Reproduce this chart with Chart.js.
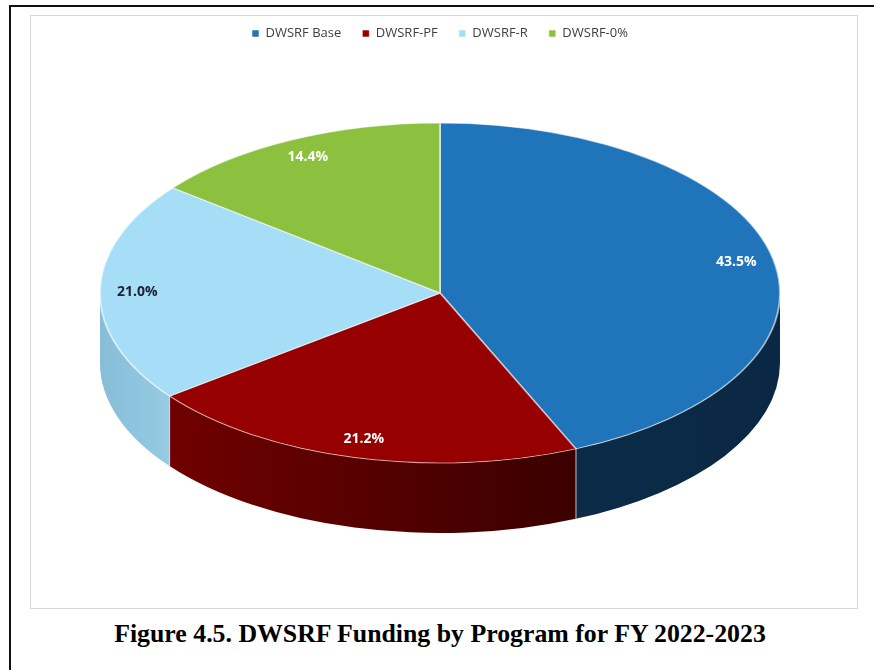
<!DOCTYPE html>
<html>
<head>
<meta charset="utf-8">
<script src="https://cdn.jsdelivr.net/npm/chart.js@4.4.0/dist/chart.umd.min.js"></script>
<style>
  html, body { margin: 0; padding: 0; background: #fff; }
  body { width: 874px; height: 670px; position: relative; overflow: hidden; }
  #frame { position: absolute; left: 9px; top: 5px; width: 900px; height: 700px;
           border-left: 2px solid #111; border-top: 2px solid #111; }
  #box { position: absolute; left: 30px; top: 15px; width: 826px; height: 592px;
         border: 1px solid #d9d9d9; overflow: hidden; background: #fff; }
  #box canvas { position: absolute; left: 0; top: -10px; }
  #title { position: absolute; left: 0; width: 880px; top: 619px; line-height: 30px;
           text-align: center; font: bold 25.8px "Liberation Serif", serif; color: #000; }
</style>
</head>
<body>
<div id="frame"></div>
<div id="box"><canvas id="pie" width="826" height="602"></canvas></div>
<div id="title">Figure 4.5. DWSRF Funding by Program for FY 2022-2023</div>
<script>
// values (percent of FY 2022-2023 DWSRF funding)
const programs = ['DWSRF Base', 'DWSRF-PF', 'DWSRF-R', 'DWSRF-0%'];
const shares = [43.5, 21.2, 21.0, 14.4];

// colours: top face, side wall (left -> right) and label text
const topColors = ['#2074B9', '#960000', '#A6DDF7', '#8CC13F'];
const sideColors = [['#0B2B48', '#0A2843'], ['#700000', '#3A0000'], ['#88BDD8', '#96CBE3'], ['#6E9A30', '#5C8427']];
const labelColors = ['#ffffff', '#ffffff', '#1B2233', '#ffffff'];

const DEPTH = 70;      // wall height in px
const SQUASH = 2;      // horizontal stretch of the circle -> ellipse
const LABEL_POS = 0.89;

// draws the side walls, then stretches the pie into an ellipse
const tiltPlugin = {
    id: 'tilt',
    beforeDatasetsDraw(chart) {
        const ctx = chart.ctx;
        const arcs = chart.getDatasetMeta(0).data;

        arcs.forEach((arc, i) => {
            const p = arc.getProps(['x', 'y', 'startAngle', 'endAngle', 'outerRadius'], true);
            const a = Math.max(p.startAngle, 0);
            const b = Math.min(p.endAngle, Math.PI);
            if (b <= a) return;
            const rx = p.outerRadius * SQUASH, ry = p.outerRadius;
            const xl = p.x + rx * Math.cos(b), xr = p.x + rx * Math.cos(a);
            const grad = ctx.createLinearGradient(Math.min(xl, xr), 0, Math.max(xl, xr), 0);
            grad.addColorStop(0, sideColors[i][0]);
            grad.addColorStop(1, sideColors[i][1]);

            ctx.beginPath();
            ctx.ellipse(p.x, p.y, rx, ry, 0, a, b);
            ctx.lineTo(p.x + rx * Math.cos(b), p.y + DEPTH + ry * Math.sin(b));
            ctx.ellipse(p.x, p.y + DEPTH, rx, ry, 0, b, a, true);
            ctx.closePath();
            ctx.fillStyle = grad;
            ctx.fill();

            // seam where two walls meet
            [p.startAngle, p.endAngle].forEach(t => {
                if (t <= 0.01 || t >= Math.PI - 0.01) return;
                const sx = p.x + rx * Math.cos(t), sy = p.y + ry * Math.sin(t);
                ctx.beginPath();
                ctx.moveTo(sx, sy);
                ctx.lineTo(sx, sy + DEPTH);
                ctx.strokeStyle = 'rgba(255,235,235,0.55)';
                ctx.lineWidth = 1;
                ctx.stroke();
            });
        });

        const cx = arcs[0].x;
        ctx.save();
        ctx.translate(cx, 0);
        ctx.scale(SQUASH, 1);
        ctx.translate(-cx, 0);
    },
    afterDatasetsDraw(chart) {
        const ctx = chart.ctx;
        ctx.restore();

        const arcs = chart.getDatasetMeta(0).data;
        ctx.save();
        ctx.font = 'bold 14px "Open Sans", sans-serif';
        ctx.textAlign = 'center';
        ctx.textBaseline = 'middle';
        arcs.forEach((arc, i) => {
            const p = arc.getProps(['x', 'y', 'startAngle', 'endAngle', 'outerRadius'], true);
            const mid = (p.startAngle + p.endAngle) / 2;
            const r = p.outerRadius * LABEL_POS;
            ctx.fillStyle = labelColors[i];
            ctx.fillText(shares[i].toFixed(1) + '%', p.x + r * SQUASH * Math.cos(mid), p.y + r * Math.sin(mid));
        });
        ctx.restore();
    }
};

new Chart(document.getElementById('pie'), {
    type: 'pie',
    data: {
        labels: programs,
        datasets: [{
            data: shares,
            backgroundColor: topColors,
            borderColor: 'rgba(255,255,255,0.55)',
            borderWidth: 1,
            radius: 170,
            clip: false
        }]
    },
    options: {
        responsive: false,
        animation: false,
        events: [],
        layout: { padding: { left: 0, right: 8, top: 0, bottom: 72 } },
        plugins: {
            legend: {
                position: 'top',
                labels: {
                    boxWidth: 7,
                    boxHeight: 7,
                    padding: 21,
                    color: '#404040',
                    font: { family: '"Open Sans", sans-serif', size: 13 }
                }
            },
            tooltip: { enabled: false }
        }
    },
    plugins: [tiltPlugin]
});
</script>
</body>
</html>
